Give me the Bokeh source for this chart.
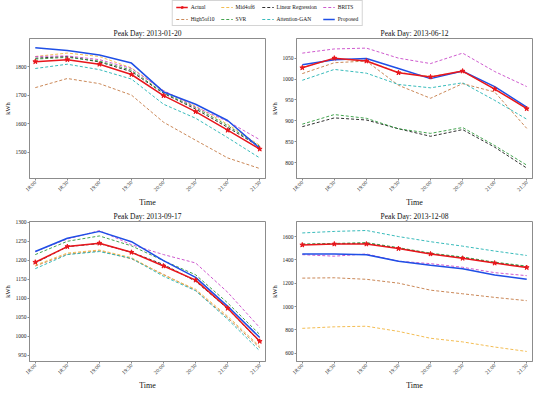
from bokeh.plotting import figure
from bokeh.layouts import column, row
from bokeh.models import Legend, LegendItem, FixedTicker, Range1d
from bokeh.embed import file_html
from bokeh.resources import INLINE

times = ["18:00", "18:30", "19:00", "19:30", "20:00", "20:30", "21:00", "21:30"]

methods = ["Actual", "High5of10", "Mid4of6", "SVR", "Linear Regression",
           "Attention-GAN", "BRITS", "Proposed"]

titles = ["Peak Day: 2013-01-20", "Peak Day: 2013-06-12",
          "Peak Day: 2013-09-17", "Peak Day: 2013-12-08"]

day_0120 = {
    "Actual":            [1817, 1824, 1808, 1772, 1698, 1642, 1577, 1511],
    "High5of10":         [1726, 1758, 1740, 1700, 1605, 1542, 1480, 1443],
    "Mid4of6":           [1835, 1847, 1835, 1795, 1714, 1661, 1598, 1524],
    "SVR":               [1826, 1832, 1819, 1787, 1708, 1656, 1593, 1521],
    "Linear Regression": [1829, 1835, 1816, 1782, 1706, 1651, 1587, 1519],
    "Attention-GAN":     [1793, 1808, 1789, 1756, 1668, 1619, 1551, 1480],
    "BRITS":             [1835, 1837, 1824, 1793, 1716, 1658, 1608, 1544],
    "Proposed":          [1866, 1856, 1840, 1812, 1711, 1668, 1611, 1514],
}

day_0612 = {
    "Actual":            [1027, 1050, 1043, 1015, 1005, 1019, 976, 929],
    "High5of10":         [1013, 1039, 1043, 985, 954, 989, 969, 882],
    "Mid4of6":           [1028, 1048, 1044, 1016, 1006, 1018, 977, 930],
    "SVR":               [892, 915, 906, 881, 870, 884, 841, 794],
    "Linear Regression": [886, 907, 902, 881, 863, 879, 837, 787],
    "Attention-GAN":     [997, 1023, 1014, 987, 979, 991, 949, 904],
    "BRITS":             [1062, 1072, 1074, 1050, 1037, 1062, 1018, 982],
    "Proposed":          [1034, 1046, 1049, 1025, 1001, 1019, 982, 933],
}

day_0917 = {
    "Actual":            [1195, 1236, 1245, 1221, 1185, 1148, 1074, 987],
    "High5of10":         [1185, 1216, 1225, 1204, 1163, 1121, 1049, 970],
    "Mid4of6":           [1187, 1219, 1227, 1207, 1161, 1124, 1053, 974],
    "SVR":               [1215, 1250, 1264, 1238, 1199, 1162, 1088, 1005],
    "Linear Regression": [1193, 1236, 1244, 1221, 1189, 1145, 1073, 986],
    "Attention-GAN":     [1178, 1215, 1223, 1205, 1158, 1120, 1045, 962],
    "BRITS":             [1223, 1256, 1278, 1241, 1215, 1193, 1116, 1023],
    "Proposed":          [1223, 1258, 1276, 1249, 1199, 1155, 1079, 997],
}

day_1208 = {
    "Actual":            [1528, 1536, 1536, 1497, 1451, 1414, 1373, 1335],
    "High5of10":         [1244, 1247, 1234, 1201, 1141, 1110, 1079, 1051],
    "Mid4of6":           [814, 827, 832, 788, 729, 698, 654, 616],
    "SVR":               [1536, 1541, 1548, 1505, 1458, 1425, 1381, 1347],
    "Linear Regression": [1532, 1538, 1543, 1501, 1453, 1420, 1376, 1342],
    "Attention-GAN":     [1631, 1644, 1652, 1600, 1556, 1518, 1476, 1438],
    "BRITS":             [1445, 1432, 1451, 1389, 1368, 1337, 1291, 1265],
    "Proposed":          [1451, 1451, 1445, 1389, 1355, 1324, 1270, 1234],
}

yranges = [(1408, 1898), (762, 1097), (934, 1302), (530, 1729)]
yticks = [[1500, 1600, 1700, 1800],
          [800, 850, 900, 950, 1000, 1050],
          [950, 1000, 1050, 1100, 1150, 1200, 1250, 1300],
          [600, 800, 1000, 1200, 1400, 1600]]

colors = {
    "Actual": "#e8161c",
    "High5of10": "#c47a45",
    "Mid4of6": "#f2b640",
    "SVR": "#2f9a3c",
    "Linear Regression": "#1a1a1a",
    "Attention-GAN": "#22b3b3",
    "BRITS": "#c848c8",
    "Proposed": "#1f4fe6",
}

FONT = "Liberation Serif"
GRAY = "#8c8c8c"
draw_order = ["High5of10", "Mid4of6", "Linear Regression", "SVR",
              "Attention-GAN", "BRITS", "Proposed", "Actual"]


def style_line(p, x, y, m):
    rs = []
    if m in ("Actual", "Proposed"):
        rs.append(p.line(x, y, line_color=colors[m], line_width=1.5))
        if m == "Actual":
            rs.append(p.scatter(x, y, marker="star", size=5,
                                fill_color=colors[m], line_color=colors[m]))
    else:
        rs.append(p.line(x, y, line_color=colors[m], line_width=0.9,
                         line_dash="3 2"))
    return rs


def make_fig(title, data, yr, yt, width, mbl, mbr):
    p = figure(width=width, height=183,
               x_range=Range1d(-0.18, 7.18), y_range=Range1d(*yr),
               output_backend="svg", toolbar_location=None,
               min_border_left=mbl, min_border_right=mbr,
               min_border_top=11, min_border_bottom=23, title=title)
    p.title.align = "center"
    p.title.text_font = FONT
    p.title.text_font_size = "7.5px"
    p.title.text_font_style = "normal"
    p.title.text_color = "#111111"
    p.title.standoff = 1
    p.title.offset = 0
    p.grid.visible = False
    p.outline_line_color = GRAY
    p.outline_line_width = 1
    p.background_fill_color = "white"
    p.border_fill_color = "white"
    p.xaxis.ticker = FixedTicker(ticks=list(range(len(times))))
    p.xaxis.major_label_overrides = {i: t for i, t in enumerate(times)}
    p.xaxis.major_label_orientation = 0.785
    p.yaxis.ticker = FixedTicker(ticks=yt)
    p.xaxis.axis_label = "Time"
    p.yaxis.axis_label = "kWh"
    for ax in (p.xaxis, p.yaxis):
        ax.axis_line_color = GRAY
        ax.major_tick_line_color = GRAY
        ax.minor_tick_line_color = None
        ax.major_tick_out = 2
        ax.major_tick_in = 0
        ax.major_label_text_font = FONT
        ax.major_label_text_font_size = "5.5px"
        ax.major_label_text_color = "#222222"
        ax.major_label_standoff = 1
        ax.axis_label_text_font = FONT
        ax.axis_label_text_font_style = "normal"
        ax.axis_label_text_color = "#111111"
        ax.axis_label_standoff = 2
    p.xaxis.axis_label_text_font_size = "8px"
    p.yaxis.axis_label_text_font_size = "6.5px"
    p.xaxis.axis_label_standoff = 0
    x = list(range(len(times)))
    for m in draw_order:
        style_line(p, x, data[m], m)
    return p


p1 = make_fig(titles[0], day_0120, yranges[0], yticks[0], 267, 23, 2)
p2 = make_fig(titles[1], day_0612, yranges[1], yticks[1], 267, 21, 2)
p3 = make_fig(titles[2], day_0917, yranges[2], yticks[2], 267, 23, 2)
p4 = make_fig(titles[3], day_1208, yranges[3], yticks[3], 267, 21, 2)

# legend strip (proxy renderers lie outside the visible range)
lg = figure(width=534, height=26, x_range=Range1d(0, 1), y_range=Range1d(0, 1),
            output_backend="svg", toolbar_location=None,
            x_axis_location=None, y_axis_location=None, min_border=0)
lg.grid.visible = False
lg.outline_line_color = None
proxy_x = [5, 6]
proxy_y = [5, 5]
items = {}
for m in methods:
    items[m] = style_line(lg, proxy_x, proxy_y, m)

row_order = ["Actual", "Mid4of6", "Linear Regression", "BRITS",
             "High5of10", "SVR", "Attention-GAN", "Proposed"]
legend = Legend(items=[LegendItem(label=m, renderers=items[m]) for m in row_order],
                location="center", orientation="horizontal", ncols=4,
                label_text_font=FONT, label_text_font_size="5.5px",
                label_text_color="#111111",
                glyph_width=12, glyph_height=6, label_height=6,
                label_standoff=3, spacing=6, padding=3, margin=0,
                border_line_color="#aaaaaa", border_line_width=1,
                background_fill_alpha=1.0)
lg.add_layout(legend, "center")

layout = column(lg, row(p1, p2), row(p3, p4))
open("out.html", "w").write(file_html(layout, INLINE))
